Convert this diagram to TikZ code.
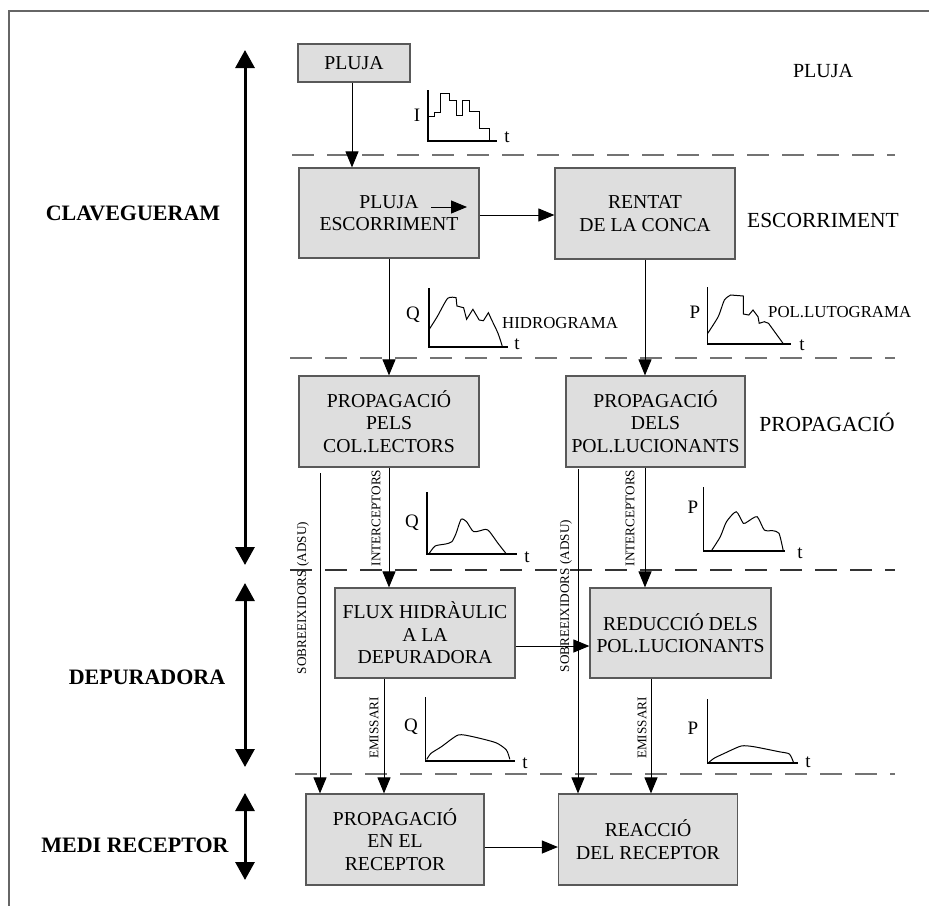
\documentclass[tikz,border=0pt]{standalone}
\usepackage{fontspec}
\setmainfont{Liberation Serif}
\usetikzlibrary{arrows.meta,calc}
\begin{document}
\begin{tikzpicture}[x=1pt,y=-1pt,
  box/.style={draw=black!65, line width=1.2pt, fill=black!13, align=center, inner sep=0pt,
    font=\fontsize{19.7}{22.5}\selectfont},
  arr/.style={-{Triangle[length=16pt,width=13pt]}, line width=1pt},
  bigarr/.style={{Triangle[length=18pt,width=19pt]}-{Triangle[length=18pt,width=19pt]}, line width=3pt},
  dashline/.style={draw=black!55, line width=1.5pt, dash pattern=on 22pt off 13pt},
  axis/.style={line width=1.1pt},
  curve/.style={line width=1pt},
  glbl/.style={inner sep=0pt, font=\fontsize{19}{20}\selectfont},
  gname/.style={inner sep=0pt, anchor=west, font=\fontsize{16.8}{18}\selectfont},
  rlbl/.style={inner sep=0pt, font=\fontsize{21.5}{23}\selectfont},
  llbl/.style={inner sep=0pt, font=\bfseries\fontsize{22}{24}\selectfont},
  rot/.style={rotate=90, inner sep=0pt, font=\fontsize{13.2}{14}\selectfont}
]
\useasboundingbox (0,0) rectangle (929,906);

% frame
\draw[black!60, line width=1.5pt] (929,11) -- (9,11) -- (9,906);

% dashed separators
\draw[dashline] (292,155) -- (895,155);
\draw[dashline] (290,358) -- (895,358);
\draw[dashline, draw=black!80, line width=1.1pt] (290,570) -- (895,570);
\draw[dashline] (295,774) -- (895,774);

% left thick arrows and labels
\coordinate (a1) at (245,50);  \coordinate (a2) at (245,565);
\coordinate (b1) at (245,583); \coordinate (b2) at (245,767);
\coordinate (c1) at (245,793); \coordinate (c2) at (245,880);
\draw[bigarr] (a1) -- (a2);
\draw[bigarr] (b1) -- (b2);
\draw[bigarr] (c1) -- (c2);
\node[llbl] (lclav) at (133,213) {CLAVEGUERAM};
\node[llbl] (ldep) at (147,677) {DEPURADORA};
\node[llbl] (lmedi) at (135,845) {MEDI RECEPTOR};

% right labels
\node[rlbl, font=\fontsize{20}{22}\selectfont] (rpluja) at (823,71) {PLUJA};
\node[rlbl] (resc) at (823,220) {ESCORRIMENT};
\node[rlbl] (rprop) at (827,422) {PROPAGACIÓ};

% boxes
\node[box, minimum width=112pt, minimum height=38pt] (pluja) at (354,63) {PLUJA};
\node[box, minimum width=180pt, minimum height=90pt] (pe) at (389,213) {PLUJA\\ESCORRIMENT};
\node[box, minimum width=180pt, minimum height=91pt] (rc) at (645,213.5) {RENTAT\\DE LA CONCA};
\node[box, minimum width=180pt, minimum height=91pt] (pc) at (389,421.5) {PROPAGACIÓ\\PELS\\COL.LECTORS};
\node[box, minimum width=179pt, minimum height=91pt] (pp) at (655.5,421.5) {PROPAGACIÓ\\DELS\\POL.LUCIONANTS};
\node[box, minimum width=180pt, minimum height=90pt] (fx) at (425,633) {FLUX HIDRÀULIC\\A LA\\DEPURADORA};
\node[box, minimum width=181pt, minimum height=90pt] (rd) at (680.5,633) {REDUCCIÓ DELS\\POL.LUCIONANTS};
\node[box, minimum width=178pt, minimum height=91pt] (pr) at (395,839.5) {PROPAGACIÓ\\EN EL\\RECEPTOR};
\node[box, minimum width=179pt, minimum height=91pt] (ra) at (648,839.5) {REACCIÓ\\DEL RECEPTOR};

% connectors
\draw[arr] ([xshift=-2pt]pluja.south) -- ([xshift=-2pt]pluja.south |- pe.north);
\draw[arr] ([xshift=42pt,yshift=6pt]pe.center) -- ([xshift=78pt,yshift=6pt]pe.center);
\draw[arr] ([yshift=-2pt]pe.east) -- ([yshift=-2pt]pe.east -| rc.west);
\draw[arr] (pe.south) -- (pe.south |- pc.north);
\draw[arr] (rc.south) -- (rc.south |- pp.north);
\draw[arr] (pc.south) -- (pc.south |- fx.north);
\draw[arr] (pp.south -| rc.south) -- (rc.south |- rd.north);
\coordinate (so1) at (320,473);
\coordinate (so2) at (578,469);
\draw[arr] (so1) -- (so1 |- pr.north);
\draw[arr] (so2) -- (so2 |- ra.north);
\draw[arr] ([yshift=-13pt]fx.east) -- ([yshift=-13pt]fx.east -| rd.west);
\coordinate (em1) at (384,0);
\coordinate (em2) at (651,0);
\draw[arr] (fx.south -| em1) -- (em1 |- pr.north);
\draw[arr] (rd.south -| em2) -- (em2 |- ra.north);
\draw[arr] ([yshift=-7.5pt]pr.east) -- ([yshift=-7.5pt]pr.east -| ra.west);

% rotated connector labels
\node[rot] (s1) at (303,598) {SOBREEIXIDORS (ADSU)};
\node[rot] (s2) at (566,596) {SOBREEIXIDORS (ADSU)};
\node[rot] (i1) at (376,518) {INTERCEPTORS};
\node[rot] (i2) at (630,518) {INTERCEPTORS};
\node[rot] (e1) at (374,728) {EMISSARI};
\node[rot] (e2) at (642,728) {EMISSARI};

% graph 1: hyetograph
\draw[axis] (428,90) -- (428,141) -- (497,141);
\draw[curve] (428.3,116) -- (434.3,116) -- (434.3,112.3) -- (440.7,112.3) -- (440.7,93.3) -- (449.3,93.3)
  -- (449.3,100.7) -- (456,100.7) -- (456,115) -- (462.7,115) -- (462.7,100.7) -- (469.3,100.7)
  -- (469.3,111.7) -- (479.3,111.7) -- (479.3,128.3) -- (489.3,128.3) -- (489.3,141);
\node[glbl] (gI) at (417,115) {I};
\node[glbl] (gt1) at (507,137) {t};

% graph 2: hydrograph
\draw[axis] (429,288) -- (429,347) -- (508,347);
\draw[curve] plot[smooth, tension=0.4] coordinates {(428.8,330) (437.2,316.7) (447.7,298.3) (456.1,297.7)}
  -- (456.9,306) -- (463.6,307.7) -- (466.6,319.3) -- (472.9,309.3) -- (479.2,320) -- (483.4,320.7)
  -- (488.4,312.7) -- (491.7,320) plot[smooth, tension=0.5] coordinates {(491.7,320) (498,333.3) (502.2,346)};
\node[glbl] (gQ1) at (413,315) {Q};
\node[glbl] (gt2) at (517,344) {t};
\node[gname] (hid) at (502,323) {HIDROGRAMA};

% graph 3: pollutogram
\draw[axis] (707.7,287) -- (707.7,344) -- (791,344);
\draw[curve] plot[smooth, tension=0.4] coordinates {(707.7,333.3) (718.2,316.7) (724.4,300) (730.7,295)}
  -- (743.3,296) -- (743.3,314) -- (748.8,315) -- (753,310) -- (758,316.7) -- (759.2,323.3)
  -- (764.3,321.7) -- (768.5,323.3) -- (783,343.3);
\node[glbl] (gP1) at (695,312) {P};
\node[glbl] (gt3) at (802,345) {t};
\node[gname] (pol) at (768,312) {POL.LUTOGRAMA};

% graph 4
\draw[axis] (427,492) -- (427,554) -- (517,554);
\draw[curve] plot[smooth, tension=0.4] coordinates {(428.8,554) (435.1,546) (445.6,544) (451.9,541.7)
  (456.1,533.3) (461.1,519.3) (466.6,521.7) (473.7,531.7) (485.5,529.3) (489.6,531.7) (498,543.3) (506.4,554)};
\node[glbl] (gQ2) at (412,523) {Q};
\node[glbl] (gt4) at (527,557) {t};

% graph 5
\draw[axis] (703.5,487) -- (703.5,551) -- (785,551);
\draw[curve] plot[smooth, tension=0.4] coordinates {(711.9,550) (720.3,536.7) (726.5,521.7) (736.2,511.7)
  (743.3,523.3) (747.5,521.7) (757.1,516.7) (764.3,530) (772.7,530.7) (779,533.3) (783.1,550)};
\node[glbl] (gP2) at (693,507) {P};
\node[glbl] (gt5) at (800,553) {t};

% graph 6
\draw[axis] (425.5,697) -- (425.5,761) -- (515,761);
\draw[curve] plot[smooth, tension=0.4] coordinates {(426.8,759.3) (431,753.3) (441.4,746.7) (458.2,735)
  (472.9,736.7) (495.9,742.7) (506.4,750) (509.8,759.3)};
\node[glbl] (gQ3) at (411,727) {Q};
\node[glbl] (gt6) at (525,763) {t};

% graph 7
\draw[axis] (707.7,699) -- (707.7,763) -- (798,763);
\draw[curve] plot[smooth, tension=0.4] coordinates {(708.5,762.7) (714,758.3) (724.4,753.3) (741.2,746)
  (753.8,746.7) (779,751.7) (789.4,754) (793.6,762.7)};
\node[glbl] (gP3) at (693,728) {P};
\node[glbl] (gt7) at (808,762) {t};
\end{tikzpicture}
\end{document}
